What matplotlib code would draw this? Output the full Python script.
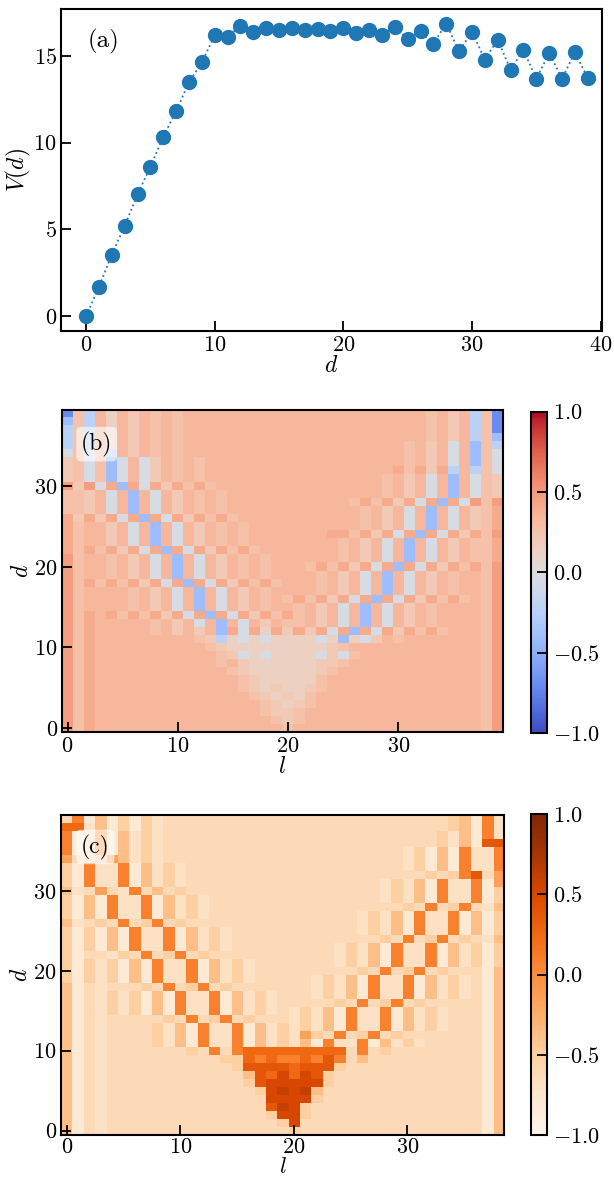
import numpy as np
import matplotlib
matplotlib.use("Agg")
import matplotlib.pyplot as plt

plt.rcParams.update({
    "font.family": "serif",
    "font.serif": ["cmr10"],
    "mathtext.fontset": "cm",
    "axes.formatter.use_mathtext": True,
    "font.size": 16,
    "axes.linewidth": 1.5,
})

# --- panel (a): V(d) ---
d_vals = list(range(40))
v_vals = [0.00, 1.69, 3.55, 5.20, 7.01, 8.60, 10.33, 11.81, 13.46, 14.61,
          16.17, 16.09, 16.70, 16.38, 16.59, 16.46, 16.61, 16.46, 16.53, 16.42,
          16.61, 16.30, 16.49, 16.21, 16.67, 15.96, 16.40, 15.69, 16.84, 15.25,
          16.38, 14.77, 15.92, 14.19, 15.34, 13.65, 15.15, 13.67, 15.19, 13.71]

# --- panel (b): cell levels, rows d=39 (top) .. d=0 ---
b_levels = {"0": -0.70, "1": -0.40, "2": -0.22, "3": -0.05, "4": 0.14,
            "5": 0.21, "6": 0.27, "7": 0.33, "8": 0.40, "9": 0.47}
b_rows = [
    "0627475767 6777777777 7777777777 7776757260",  # 39
    "1627475767 6777777777 7777777777 7776757260",  # 38
    "2627475767 6777777777 7777777777 7776757260",  # 37
    "2627475767 6777777777 7777777777 7776757261",  # 36
    "2627475767 6777777777 7777777777 7675737162",  # 35
    "3636275767 6777777777 7777777777 7675737163",  # 34
    "5636137357 6767777777 7777777777 7675737163",  # 33
    "5636137357 6767777777 7777777777 8685827263",  # 32
    "5636137357 6767777777 7777777776 7573717365",  # 31
    "9593818385 8686777777 7777777776 7573717365",  # 30
    "6657371737 5767677777 7777777776 7573717365",  # 29
    "6657371737 5767677777 7777776868 5838183969",  # 28
    "6657371737 5767677777 7777777675 7371737568",  # 27
    "8585838183 8586867777 7777777675 7371737568",  # 26
    "8677573717 3757676777 7777777675 7371737568",  # 25
    "8677573717 3757676777 7777886858 3818385869",  # 24
    "8677573717 3757676777 7777767573 7173757668",  # 23
    "8686858381 8385868677 7777767573 7173757668",  # 22
    "9677675737 1737576767 7777767573 7173757668",  # 21
    "9677675737 1737576767 7768685838 1838586869",  # 20
    "9677675737 1737576767 7776757371 7375767769",  # 19
    "9686868583 8183858686 7776757371 7375767769",  # 18
    "9677776757 3717375767 7776757371 7375767769",  # 17
    "9677776757 3717375767 6868583818 3858686769",  # 16
    "9677776757 3717375767 7675737173 7576777769",  # 15
    "9687868685 8381838586 8675737173 7576777769",  # 14
    "9687777767 5737173757 6675737173 7576777769",  # 13
    "9687777767 5757183848 5858381838 5868677769",  # 12
    "9687777777 7765243434 4443414357 6777777769",  # 11
    "9687777777 7776544444 4444567777 7777777769",  # 10
    "9687777777 7777653434 4443536777 7777777769",  # 9
    "9687777777 7777675444 4445567777 7777777769",  # 8
    "9687777777 7777765444 4445677777 7777777769",  # 7
    "9687777777 7777776544 4446777777 7777777769",  # 6
    "9687777777 7777776545 4456777777 7777777769",  # 5
    "9687777777 7777777654 5467777777 7777777769",  # 4
    "9687777777 7777777765 4567777777 7777777769",  # 3
    "9687777777 7777777765 5677777777 7777777769",  # 2
    "9687777777 7777777776 5677777777 7777777769",  # 1
    "9687777777 7777777777 6777777777 7777777769",  # 0
]

# --- panel (c): cell levels, rows d=39 (top) .. d=0, l = 0..38 ---
c_levels = {"0": -0.80, "1": -0.70, "2": -0.62, "3": -0.50, "4": -0.38,
            "5": -0.15, "6": 0.08, "7": 0.25, "8": 0.38, "9": 0.50, "a": 0.60}
c_rows = [
    "2604030312 2222222222 2222222222 222234061",  # 39
    "7714030312 2222222222 2222222222 222234061",  # 38
    "6015041312 2222222222 2222222222 222314061",  # 37
    "6015041312 2222222222 2222222222 222314088",  # 36
    "6015041312 2222222222 2222222222 130406116",  # 35
    "5213541312 2222222222 2222222222 130406116",  # 34
    "3061160413 1222222222 2222222222 130406116",  # 33
    "3061160413 1222222222 2222222222 223236825",  # 32
    "3061160413 1222222222 2222222213 140611605",  # 31
    "4125216242 3222222222 2222222213 140611603",  # 30
    "3040611604 1312222222 2222222213 140611603",  # 29
    "3040611604 1312222222 2222222222 326236214",  # 28
    "3040611604 1312222222 2222221314 061160403",  # 27
    "4123262362 3222222222 2222221314 061160403",  # 26
    "3030406116 0413122222 2222221314 061160403",  # 25
    "3030406116 0413122222 2222222232 623623214",  # 24
    "3030406116 0413122222 2222131406 116041303",  # 23
    "3022132623 6232222222 2222131406 116041303",  # 22
    "3031304061 1604131222 2222131406 116041303",  # 21
    "3031304061 1604131222 2222223262 362322204",  # 20
    "3031304061 1604131222 2213140611 604131204",  # 19
    "4021222326 2362322222 2213140611 604131204",  # 18
    "4021313040 6116041312 2213140611 604131204",  # 17
    "4021313040 6116041312 2222326236 232222204",  # 16
    "4021313040 6116041312 1314061160 413122204",  # 15
    "4021222223 2623623222 1314061160 413122204",  # 14
    "4021222231 4061160413 1314061160 413122204",  # 13
    "4021222231 4061160413 1532623623 222222204",  # 12
    "4021222231 4061160413 1406116041 312222204",  # 11
    "4021222222 2326267777 7777726232 222222204",  # 10
    "4021222222 2222337676 6768624222 222222204",  # 9
    "4021222222 2222238888 7888322222 222222204",  # 8
    "4021222222 2222224879 7983222222 222222204",  # 7
    "4021222222 2222223899 9993222222 222222204",  # 6
    "4021222222 222222239a 9a42222222 222222204",  # 5
    "4021222222 2222222299 9932222222 222222204",  # 4
    "4021222222 222222228a 9322222222 222222204",  # 3
    "4021222222 2222222239 9322222222 222222204",  # 2
    "4021222222 2222222223 9222222222 222222204",  # 1
    "4021222222 2222222222 3222222222 222222204",  # 0
]


def to_grid(rows, levels):
    grid = np.array([[levels[ch] for ch in r.replace(" ", "")] for r in rows])
    return grid[::-1]          # row 0 -> d = 0


b_grid = to_grid(b_rows, b_levels)
c_grid = to_grid(c_rows, c_levels)

fig = plt.figure(figsize=(6.14, 11.8), dpi=100)


def style_ticks(ax):
    ax.tick_params(direction="in", length=7, width=1.3, labelsize=16,
                   top=False, right=False, pad=3)


# (a)
ax_a = fig.add_axes([0.0993, 0.7195, 0.881, 0.2729])
ax_a.plot(d_vals, v_vals, ":", color="#1f77b4", marker="o", markersize=10, lw=1.3)
ax_a.set_xlim(-1.95, 40.1)
ax_a.set_xticks([0, 10, 20, 30, 40])
ax_a.set_yticks([0, 5, 10, 15])
ax_a.set_xlabel("$d$", fontsize=17, labelpad=0)
ax_a.set_ylabel("$V(d)$", fontsize=17, labelpad=0)
ax_a.text(0.05, 0.898, "(a)", transform=ax_a.transAxes, fontsize=18,
          ha="left", va="center")
style_ticks(ax_a)

# (b)
ax_b = fig.add_axes([0.101, 0.3797, 0.7182, 0.2729])
im_b = ax_b.imshow(b_grid, cmap="coolwarm", vmin=-1, vmax=1, origin="lower",
                   aspect="auto", interpolation="nearest")
ax_b.set_xticks([0, 10, 20, 30])
ax_b.set_yticks([0, 10, 20, 30])
ax_b.set_xlabel("$l$", fontsize=17, labelpad=0)
ax_b.set_ylabel("$d$", fontsize=17, labelpad=1)
ax_b.text(0.043, 0.894, "(b)", transform=ax_b.transAxes, fontsize=17,
          ha="left", va="center",
          bbox=dict(boxstyle="round,pad=0.2", fc="white", ec="none", alpha=0.6))
style_ticks(ax_b)
cax_b = fig.add_axes([0.8648, 0.3788, 0.026, 0.2723])
cb_b = fig.colorbar(im_b, cax=cax_b, ticks=[-1, -0.5, 0, 0.5, 1])
cb_b.outline.set_linewidth(1.5)
cax_b.tick_params(direction="in", length=7, width=1.3, labelsize=16, pad=4)

# (c)
ax_c = fig.add_axes([0.0993, 0.0385, 0.7215, 0.2708])
im_c = ax_c.imshow(c_grid, cmap="Oranges", vmin=-1, vmax=1, origin="lower",
                   aspect="auto", interpolation="nearest")
ax_c.set_xticks([0, 10, 20, 30])
ax_c.set_yticks([0, 10, 20, 30])
ax_c.set_xlabel("$l$", fontsize=16, labelpad=0)
ax_c.set_ylabel("$d$", fontsize=17, labelpad=1)
ax_c.text(0.045, 0.90, "(c)", transform=ax_c.transAxes, fontsize=17,
          ha="left", va="center",
          bbox=dict(boxstyle="round,pad=0.2", fc="white", ec="none", alpha=0.6))
style_ticks(ax_c)
ax_c.tick_params(axis="x", pad=2)
cax_c = fig.add_axes([0.8648, 0.0379, 0.026, 0.2723])
cb_c = fig.colorbar(im_c, cax=cax_c, ticks=[-1, -0.5, 0, 0.5, 1])
cb_c.outline.set_linewidth(1.5)
cax_c.tick_params(direction="in", length=7, width=1.3, labelsize=16, pad=4)

fig.savefig("out.png", dpi=100)
